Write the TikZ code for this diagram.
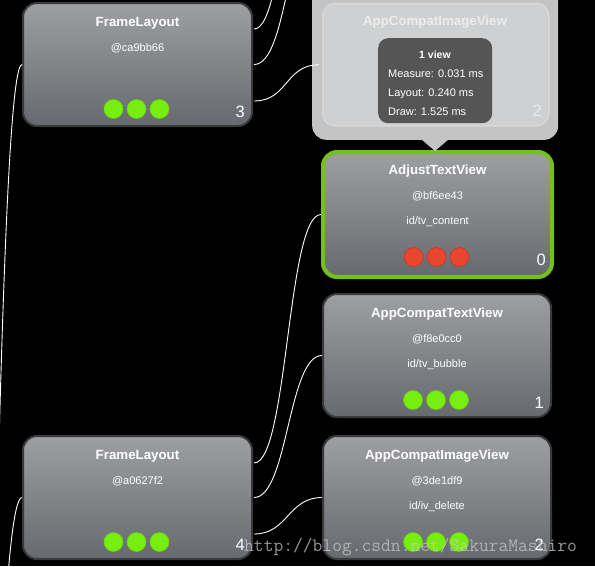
\documentclass[tikz,border=0pt]{standalone}
\usepackage{fontspec}
\setmainfont{Liberation Sans}
\usetikzlibrary{calc}
\definecolor{boxtop}{RGB}{158,159,163}
\definecolor{boxbot}{RGB}{102,105,109}
\definecolor{boxedge}{RGB}{58,58,60}
\definecolor{selgreen}{RGB}{116,193,26}
\definecolor{dotgreen}{RGB}{118,238,16}
\definecolor{dotgreenedge}{RGB}{104,212,14}
\definecolor{dotred}{RGB}{232,70,46}
\definecolor{dotrededge}{RGB}{196,56,38}
\definecolor{popouter}{RGB}{196,196,197}
\definecolor{popinner}{RGB}{207,208,209}
\definecolor{popedge}{RGB}{216,216,217}
\definecolor{poptext}{RGB}{236,236,236}
\definecolor{tipfill}{RGB}{85,85,85}
\definecolor{wmark}{RGB}{200,200,200}
\tikzset{
  viewbox/.style={draw=boxedge, line width=2pt, rounded corners=14pt, top color=boxtop, bottom color=boxbot, minimum width=229pt, minimum height=123pt, inner sep=0pt, anchor=north west},
  selbox/.style={viewbox, draw=selgreen, line width=4pt},
  titletxt/.style={text=white, font=\bfseries\fontsize{13.3}{16}\selectfont, anchor=base, inner sep=0pt},
  smalltxt/.style={text=white, font=\fontsize{11}{13}\selectfont, anchor=base, inner sep=0pt},
  numtxt/.style={text=white, font=\fontsize{16.5}{19}\selectfont, anchor=base east, inner sep=0pt},
  dotg/.style={circle, fill=dotgreen, draw=dotgreenedge, line width=0.6pt, minimum size=19pt, inner sep=0pt},
  dotr/.style={dotg, fill=dotred, draw=dotrededge},
  link/.style={draw=white, line width=0.9pt},
  popframe/.style={fill=popouter, rounded corners=14pt, inner sep=0pt, minimum width=246pt, minimum height=170pt, anchor=south west},
  popbox/.style={fill=popinner, draw=popedge, line width=1.5pt, rounded corners=12pt, inner sep=0pt, minimum width=226pt, minimum height=122pt, anchor=north west},
  tipbox/.style={fill=tipfill, rounded corners=10pt, inner sep=0pt, minimum width=114pt, minimum height=85pt, anchor=north west},
  tiptxt/.style={text=white, font=\fontsize{11}{13}\selectfont, anchor=base west, inner sep=0pt},
  wmtxt/.style={text=wmark, opacity=0.75, font=\ttfamily\fontsize{19}{20}\selectfont, anchor=base west, inner sep=0pt},
}
\newcommand{\viewtexts}[4]{%
  \node[titletxt] (#1t) at ($(#1.north)+(0,24)$) {#2};
  \node[smalltxt] (#1i) at ($(#1.north)+(0,49)$) {#3};
  \node[numtxt] (#1n) at ($(#1.north east)+(-8,115)$) {#4};
}
\newcommand{\viewdots}[2]{%
  \node[#2] (#1d1) at ($(#1.north)+(-24,107)$) {};
  \node[#2] (#1d2) at ($(#1.north)+(-1,107)$) {};
  \node[#2] (#1d3) at ($(#1.north)+(22,107)$) {};
}
% connector: S-curve, horizontal at both ends
\newcommand{\linkto}[2]{%
  \draw[link] (#1) .. controls ($(#1)+(34,0)$) and ($(#2)+(-34,0)$) .. (#2);
}
\begin{document}
\begin{tikzpicture}[x=1pt,y=-1pt]
\useasboundingbox (0,0) rectangle (595,566);
\clip (0,0) rectangle (595,566);
\fill[black] (0,0) rectangle (595,566);

% view boxes
\node[viewbox] (fl1) at (22,2) {};
\node[selbox, minimum height=125pt] (atv) at (321,150) {};
\node[viewbox, minimum width=228pt] (actv) at (322,293) {};
\node[viewbox] (fl2) at (22,435) {};
\node[viewbox, minimum width=228pt] (aciv) at (322,435) {};

\viewtexts{fl1}{FrameLayout}{@ca9bb66}{3}
\viewdots{fl1}{dotg}
\viewtexts{atv}{AdjustTextView}{@bf6ee43}{0}
\node[smalltxt] (atvi2) at ($(atv.north)+(0,74)$) {id/tv\_content};
\viewdots{atv}{dotr}
\viewtexts{actv}{AppCompatTextView}{@f8e0cc0}{1}
\node[smalltxt] (actvi2) at ($(actv.north)+(0,74)$) {id/tv\_bubble};
\viewdots{actv}{dotg}
\viewtexts{fl2}{FrameLayout}{@a0627f2}{4}
\viewdots{fl2}{dotg}
\viewtexts{aciv}{AppCompatImageView}{@3de1df9}{2}
\node[smalltxt] (acivi2) at ($(aciv.north)+(0,74)$) {id/iv\_delete};
\viewdots{aciv}{dotg}

% highlighted popup view
\node[popframe] (pop) at (312,140) {};
\fill[popouter] (421,139) -- (449,139) -- (435,151) -- cycle;
\node[popbox] (acivT) at (322,3) {};
\node[titletxt, text=poptext] (acivTt) at (435,25) {AppCompatImageView};
\node[numtxt, text=poptext] (acivTn) at (542,116) {2};
\node[tipbox] (tip) at (378,38) {};
\node[smalltxt, font=\bfseries\fontsize{10.5}{13}\selectfont] (tip1) at (435,58) {1 view};
\node[tiptxt] (tip2) at (388,77) {Measure: 0.031 ms};
\node[tiptxt] (tip3) at (388,96.5) {Layout: 0.240 ms};
\node[tiptxt] (tip4) at (388,115.5) {Draw: 1.525 ms};

% ports and off-screen ends
\coordinate (fl1p1) at ($(fl1.north east)+(1,27)$);
\coordinate (fl1p2) at ($(fl1.east)+(1,0)$);
\coordinate (fl1p3) at ($(fl1.south east)+(1,-26)$);
\coordinate (fl2p1) at ($(fl2.north east)+(1,28)$);
\coordinate (fl2p2) at ($(fl2.east)+(1,0)$);
\coordinate (fl2p3) at ($(fl2.south east)+(1,-26)$);
\coordinate (acivTin) at ($(acivT.west)+(-3,0)$);
\coordinate (fl1in) at (fl1.west);
\coordinate (fl2in) at (fl2.west);
\coordinate (atvin) at (atv.west);
\coordinate (actvin) at (actv.west);
\coordinate (acivin) at (aciv.west);
\coordinate (offA) at (320,-221);
\coordinate (offB) at (320,-79);
\coordinate (parA) at (-47,1900);
\coordinate (parB) at (-47,1640);

% connectors
\linkto{parA}{fl1in}
\linkto{parB}{fl2in}
\linkto{fl1p1}{offA}
\linkto{fl1p2}{offB}
\linkto{fl1p3}{acivTin}
\linkto{fl2p1}{atvin}
\linkto{fl2p2}{actvin}
\linkto{fl2p3}{acivin}

% watermark
\node[wmtxt] (wm) at (244,551) {http://blog.csdn.net/SakuraMashiro};
\end{tikzpicture}
\end{document}
